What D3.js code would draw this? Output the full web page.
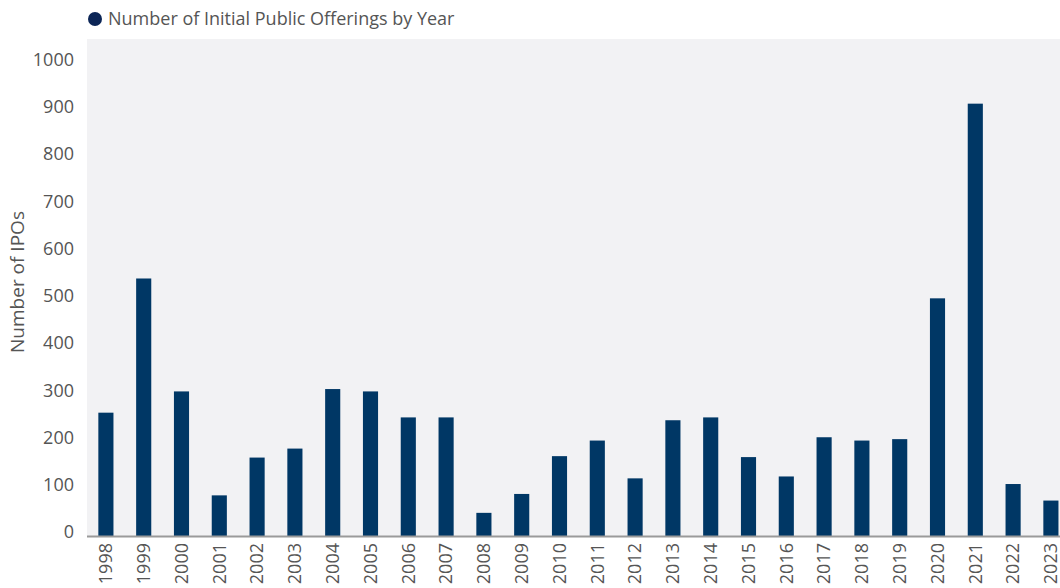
<!DOCTYPE html>
<html>
<head>
<meta charset="utf-8">
<script src="https://cdn.jsdelivr.net/npm/d3@7"></script>
<style>
  body { margin: 0; background: #fff; }
  svg { display: block; font-family: "Open Sans", Roboto, sans-serif; }
</style>
</head>
<body>
<div id="chart"></div>
<script>
// data
var years = ["1998","1999","2000","2001","2002","2003","2004","2005","2006","2007","2008","2009","2010",
             "2011","2012","2013","2014","2015","2016","2017","2018","2019","2020","2021","2022","2023"];
var ipos = [261, 545, 306, 86, 166, 185, 311, 306, 251, 251, 49, 89, 169,
            202, 122, 245, 251, 167, 126, 209, 202, 205, 503, 915, 110, 75];
var yTicks = [0, 100, 200, 300, 400, 500, 600, 700, 800, 900, 1000];
var seriesName = "Number of Initial Public Offerings by Year";
var yTitle = "Number of IPOs";

var W = 1060, H = 588;
var margin = {top: 39, right: 0, bottom: 52, left: 87};

var svg = d3.select("#chart").append("svg")
    .attr("width", W)
    .attr("height", H);

// plot background
svg.append("rect")
    .attr("x", margin.left)
    .attr("y", margin.top)
    .attr("width", W - margin.left)
    .attr("height", H - margin.bottom - margin.top)
    .attr("fill", "#f2f2f4");

var x = d3.scaleBand()
    .domain(years)
    .range([margin.left, margin.left + 37.8 * years.length])
    .paddingInner(0.6)
    .paddingOuter(0.3);

var y = d3.scaleLinear()
    .domain([0, 1000])
    .range([H - margin.bottom, 63.5]);

// bars
svg.append("g").selectAll(".bar")
    .data(years)
    .enter().append("rect")
    .attr("class", "bar")
    .attr("x", function (d) { return x(d); })
    .attr("y", function (d, i) { return y(ipos[i]); })
    .attr("width", x.bandwidth())
    .attr("height", function (d, i) { return y(0) - y(ipos[i]); })
    .attr("fill", "#003765");

// y axis, labels only
var yAxis = svg.append("g")
    .attr("transform", "translate(" + (margin.left - 13) + ",-4)")
    .call(d3.axisLeft(y).tickValues(yTicks).tickSize(0).tickPadding(0).tickFormat(d3.format("d")));
yAxis.select(".domain").remove();
yAxis.selectAll("text")
    .style("font-size", "18px")
    .style("fill", "#555")
    .style("font-family", "'Open Sans', sans-serif");

// x axis
var xAxis = svg.append("g")
    .attr("transform", "translate(0," + (H - margin.bottom) + ")")
    .call(d3.axisBottom(x).tickSize(0));
xAxis.select(".domain").remove();
xAxis.selectAll("text")
    .attr("transform", "rotate(-90)")
    .attr("x", -7)
    .attr("y", 0)
    .attr("dy", "0.35em")
    .style("text-anchor", "end")
    .style("font-size", "18px")
    .style("fill", "#555")
    .style("font-family", "'Open Sans', sans-serif");

svg.append("line")
    .attr("x1", margin.left)
    .attr("x2", W)
    .attr("y1", y(0) + 0.5)
    .attr("y2", y(0) + 0.5)
    .attr("stroke", "#9a9a9a")
    .attr("stroke-width", 2);

// y title
svg.append("text")
    .attr("transform", "translate(24,282) rotate(-90)")
    .attr("text-anchor", "middle")
    .style("font-size", "19px")
    .style("fill", "#555")
    .text(yTitle);

// legend
svg.append("circle")
    .attr("cx", 95)
    .attr("cy", 19)
    .attr("r", 7)
    .attr("fill", "#0b2556");
svg.append("text")
    .attr("x", 108)
    .attr("y", 19)
    .attr("dy", "0.35em")
    .style("font-size", "18px")
    .style("fill", "#555")
    .text(seriesName);
</script>
</body>
</html>
